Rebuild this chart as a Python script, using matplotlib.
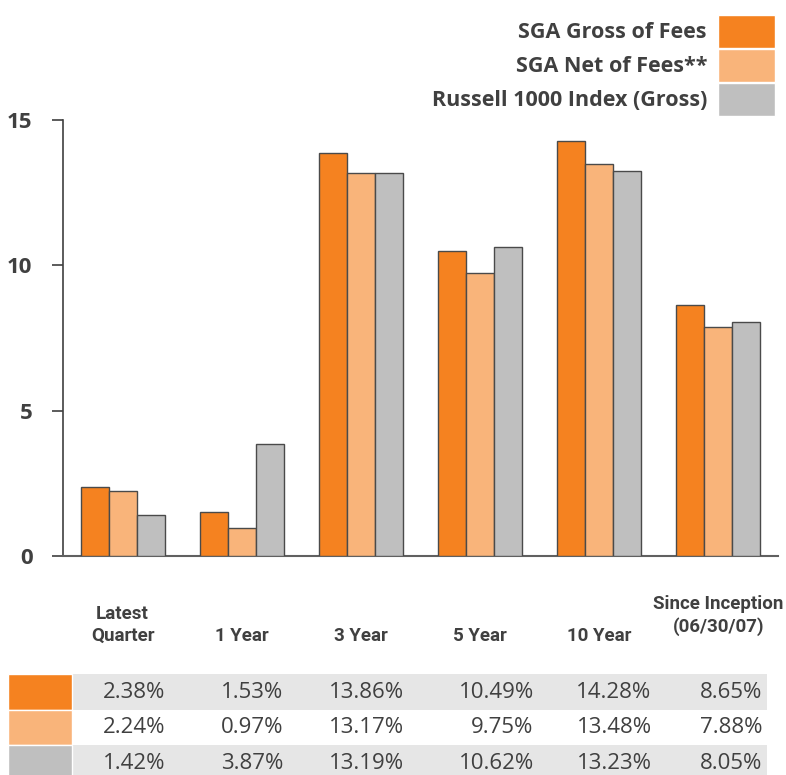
import matplotlib
matplotlib.use('Agg')
import matplotlib.pyplot as plt
from matplotlib.patches import Rectangle

categories = ['Latest\nQuarter', '1 Year', '3 Year', '5 Year', '10 Year', 'Since Inception\n(06/30/07)']
series = ['SGA Gross of Fees', 'SGA Net of Fees**', 'Russell 1000 Index (Gross)']
gross = [2.38, 1.53, 13.86, 10.49, 14.28, 8.65]
net = [2.24, 0.97, 13.17, 9.75, 13.48, 7.88]
russell = [1.42, 3.87, 13.19, 10.62, 13.23, 8.05]
yticks = [0, 5, 10, 15]

colors = ['#F58220', '#F9B47A', '#BFBFBF']
txt = '#404040'
W, H = 786, 775

plt.rcParams['font.family'] = ['Open Sans', 'DejaVu Sans']

fig = plt.figure(figsize=(W / 100, H / 100), dpi=100)

def box(x0, y0, x1, y1):
    # pixel box (top-left origin) -> figure fraction
    return [x0 / W, 1 - y1 / H, (x1 - x0) / W, (y1 - y0) / H]

ax = fig.add_axes(box(63, 120, 778, 556))
data = [gross, net, russell]
bw = 0.235
xs = range(len(categories))
for k, vals in enumerate(data):
    ax.bar([x + (k - 1) * bw for x in xs], vals, width=bw, color=colors[k],
           edgecolor='#4a4a4a', linewidth=1.0, zorder=3)

ax.set_xlim(-0.5, len(categories) - 0.5)
ax.set_ylim(0, 15)
ax.set_yticks(yticks)
ax.set_yticklabels([str(t) for t in yticks], fontsize=16, fontweight='bold', color=txt)
ax.tick_params(axis='y', length=8, width=1.2, color='#404040', pad=14)
ax.set_xticks([])
for s in ['top', 'right']:
    ax.spines[s].set_visible(False)
ax.spines['left'].set_color('#404040')
ax.spines['bottom'].set_color('#606060')
ax.spines['left'].set_linewidth(1.2)
ax.spines['bottom'].set_linewidth(1.5)

# category labels below the chart (last one sits a bit higher)
label_off = [-89, -89, -89, -89, -89, -80]
for i, c in enumerate(categories):
    ax.annotate(c, (i, 0), xytext=(0, label_off[i]), textcoords='offset pixels',
                ha='center', va='bottom', fontsize=13.5, fontweight='bold',
                color=txt, family=['Roboto', 'DejaVu Sans'],
                linespacing=1.3, annotation_clip=False)

# legend at the top right
for k, name in enumerate(series):
    y0 = 15 + k * 34
    fig.add_artist(Rectangle((718 / W, 1 - (y0 + 33) / H), 57 / W, 33 / H,
                             transform=fig.transFigure, facecolor=colors[k],
                             edgecolor='white', linewidth=1))
    fig.text(707 / W, 1 - (y0 + 17) / H, name, ha='right', va='center',
             fontsize=15.5, fontweight='bold', color=txt)

# data table
tab = fig.add_axes(box(63, 674, 778, 780.5))
tab.set_xlim(-0.5, len(categories) - 0.5)
tab.set_ylim(3, 0)
tab.axis('off')
col_right = [0.36, 1.35, 2.36, 3.45, 4.44, 5.37]
for r, vals in enumerate(data):
    if r != 1:
        tab.add_patch(Rectangle((-0.424, r), 5.83, 1, facecolor='#E6E6E6',
                                edgecolor='none', clip_on=False))
    tab.add_patch(Rectangle((-0.962, r), 0.538, 1, facecolor=colors[r],
                            edgecolor='white', linewidth=1, clip_on=False))
    for i, v in enumerate(vals):
        tab.text(col_right[i], r + 0.52, f'{v:.2f}%', ha='right', va='center',
                 fontsize=16, color=txt, clip_on=False)

fig.savefig('out.png', dpi=100)
